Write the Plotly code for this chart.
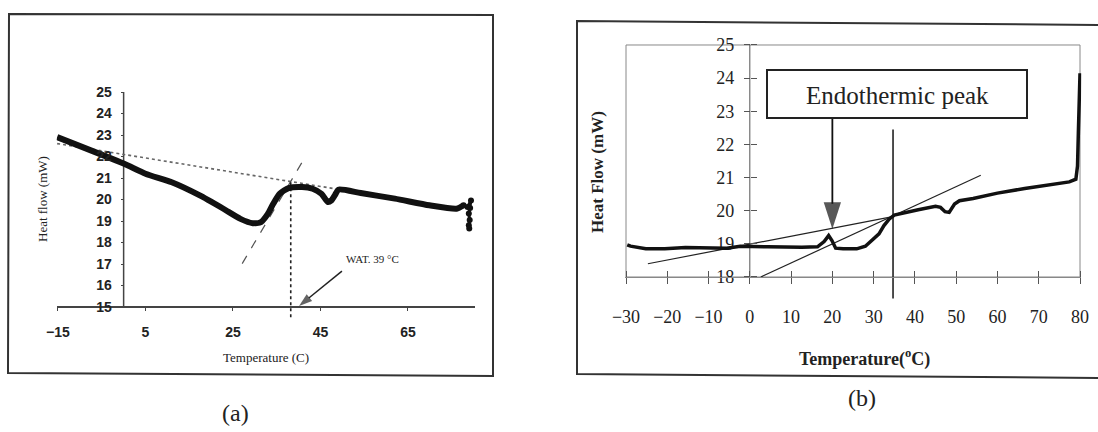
import plotly.graph_objects as go

W, H = 1098, 432

# ---------------- Panel (a) data ----------------
A_X_TICKS = [-15, 5, 25, 45, 65]
A_Y_TICKS = [15, 16, 17, 18, 19, 20, 21, 22, 23, 24, 25]
A_CURVE_T = [-15.2, 0, 5, 11, 17.3, 22.8, 26.7, 29.5, 31.4, 33, 34.2, 35.7, 37.7,
             40.8, 43.2, 45.2, 46.7, 47.5, 48.3, 49.1, 54.2, 62, 69.9, 76.1, 77.7]
A_CURVE_HF = [22.9, 21.67, 21.2, 20.8, 20.2, 19.57, 19.1, 18.9, 18.95, 19.34, 19.8, 20.27, 20.53,
              20.58, 20.5, 20.27, 19.88, 19.96, 20.2, 20.46, 20.3, 20.04, 19.73, 19.57, 19.73]
A_END_T = [77.7, 78.6, 79.4, 79.2, 78.9, 79.1, 78.9, 79.0]
A_END_HF = [19.73, 19.65, 19.95, 19.6, 19.35, 19.05, 18.8, 18.65]
A_BASE_T = [-15.2, 48.3]
A_BASE_HF = [22.6, 20.5]
A_TAN_T = [27.1, 40.8]
A_TAN_HF = [17.02, 21.74]
A_WAT_T = [38.2, 38.2]
A_WAT_HF = [20.8, 14.4]
A_ARROW_T = [49.9, 40.1]
A_ARROW_HF = [16.67, 15.05]

# ---------------- Panel (b) data ----------------
B_X_TICKS = [-30, -20, -10, 0, 10, 20, 30, 40, 50, 60, 70, 80]
B_Y_TICKS = [18, 19, 20, 21, 22, 23, 24, 25]
B_CURVE_T = [-29.7, -28.9, -25.2, -20.6, -15.6, -10.6, -5.6, -2.3, 0, 4.3, 12.6, 16.4,
             18.0, 19.1, 19.9, 20.8, 22.6, 25.9, 28.0, 29.6, 31.3, 32.5, 33.8, 35.0,
             37.5, 40.8, 45.0, 46.2, 47.3, 48.3, 49.6, 50.8, 54.1, 60.0, 66.6, 72.4,
             77.4, 79.0, 79.4, 79.6, 79.8, 79.9, 80.0]
B_CURVE_HF = [18.97, 18.93, 18.85, 18.85, 18.89, 18.87, 18.87, 18.93, 18.93, 18.91, 18.9, 18.91,
              19.07, 19.25, 19.1, 18.87, 18.85, 18.85, 18.93, 19.1, 19.3, 19.55, 19.75, 19.87,
              19.95, 20.03, 20.13, 20.1, 19.97, 19.95, 20.2, 20.3, 20.37, 20.53, 20.67, 20.79,
              20.87, 20.95, 21.35, 22.35, 23.3, 23.95, 24.15]
B_BASE_T = [-24.7, 34.6]
B_BASE_HF = [18.4, 19.82]
B_TAN_T = [2.66, 55.96]
B_TAN_HF = [18.0, 21.07]
B_VLINE_T = [34.7, 34.7]
B_VLINE_HF = [22.45, 17.35]
B_ARROW_T = [20.0, 20.0]
B_ARROW_HF = [22.8, 19.45]


def px_x(p):
    return p / W


def px_y(p):
    return 1 - p / H


# axis geometry (pixels) ---------------------------------
a_xr = [-15.3, 80.2]
a_ppx = (408 - 58) / 80.0
a_xdom = [px_x(58 + (a_xr[0] + 15) * a_ppx), px_x(58 + (a_xr[1] + 15) * a_ppx)]
a_yr = [14.3, 25.1]
a_ppy = (307 - 92) / 10.0
a_ydom = [px_y(307 + (15 - a_yr[0]) * a_ppy), px_y(307 - (a_yr[1] - 15) * a_ppy)]
a_xpos = px_y(307)
a_ypos = px_x(58 + 15 * a_ppx)

b_xr = [-30.3, 80.3]
b_ppx = (1080 - 626) / 110.0
b_xdom = [px_x(626 + (b_xr[0] + 30) * b_ppx), px_x(626 + (b_xr[1] + 30) * b_ppx)]
b_yr = [17.2, 25.1]
b_ppy = (277 - 45) / 7.0
b_ydom = [px_y(277 + (18 - b_yr[0]) * b_ppy), px_y(277 - (b_yr[1] - 18) * b_ppy)]
b_xpos = px_y(277)
b_ypos = px_x(626 + 30 * b_ppx)

SANS = "Liberation Sans Narrow, Liberation Sans, Arial, sans-serif"
SERIF = "Liberation Serif, Times New Roman, serif"

fig = go.Figure()

# ---- panel a traces ----
fig.add_trace(go.Scatter(x=[0, 0], y=[min(A_Y_TICKS), max(A_Y_TICKS)], mode="lines",
                         line=dict(color="#444", width=1.5), xaxis="x", yaxis="y", hoverinfo="skip"))
fig.add_trace(go.Scatter(x=A_BASE_T, y=A_BASE_HF, mode="lines",
                         line=dict(color="#666", width=1.6, dash="dot"), xaxis="x", yaxis="y"))
fig.add_trace(go.Scatter(x=A_TAN_T, y=A_TAN_HF, mode="lines",
                         line=dict(color="#555", width=1.2, dash="dash"), xaxis="x", yaxis="y"))
fig.add_trace(go.Scatter(x=A_WAT_T, y=A_WAT_HF, mode="lines",
                         line=dict(color="#222", width=1.6, dash="dot"), xaxis="x", yaxis="y"))
fig.add_trace(go.Scatter(x=A_CURVE_T, y=A_CURVE_HF, mode="lines",
                         line=dict(color="#111", width=6, shape="spline", smoothing=0.6),
                         xaxis="x", yaxis="y"))
fig.add_trace(go.Scatter(x=A_END_T, y=A_END_HF, mode="lines+markers",
                         line=dict(color="#111", width=3), marker=dict(color="#111", size=6),
                         xaxis="x", yaxis="y"))
fig.add_trace(go.Scatter(x=A_ARROW_T, y=A_ARROW_HF, mode="lines+markers",
                         line=dict(color="#222", width=1.5),
                         marker=dict(symbol="arrow", size=[0, 14], angleref="previous",
                                     color="#222", line=dict(width=0)),
                         cliponaxis=False, xaxis="x", yaxis="y"))

# ---- panel b traces ----
fig.add_trace(go.Scatter(x=[0, 0], y=[min(B_Y_TICKS), max(B_Y_TICKS)], mode="lines",
                         line=dict(color="#555", width=1), xaxis="x2", yaxis="y2", hoverinfo="skip"))
fig.add_trace(go.Scatter(x=B_BASE_T, y=B_BASE_HF, mode="lines",
                         line=dict(color="#222", width=1.2), xaxis="x2", yaxis="y2"))
fig.add_trace(go.Scatter(x=B_TAN_T, y=B_TAN_HF, mode="lines",
                         line=dict(color="#222", width=1.2), xaxis="x2", yaxis="y2"))
fig.add_trace(go.Scatter(x=B_VLINE_T, y=B_VLINE_HF, mode="lines",
                         line=dict(color="#222", width=1.6), xaxis="x2", yaxis="y2"))
fig.add_trace(go.Scatter(x=B_CURVE_T, y=B_CURVE_HF, mode="lines",
                         line=dict(color="#111", width=3.5), xaxis="x2", yaxis="y2"))
fig.add_trace(go.Scatter(x=B_ARROW_T, y=B_ARROW_HF, mode="lines+markers",
                         line=dict(color="#111", width=1.8),
                         marker=dict(symbol="arrow", size=[0, 28], angleref="previous",
                                     color="#111", line=dict(width=0)),
                         xaxis="x2", yaxis="y2"))
fig.add_trace(go.Scatter(x=[], y=[], xaxis="x3", yaxis="y3", hoverinfo="skip"))

shapes = [
    dict(type="path", xref="paper", yref="paper",
         path=f"M {px_x(9)} {px_y(14)} L {px_x(493)} {px_y(15)} L {px_x(493)} {px_y(376)} "
              f"L {px_x(8)} {px_y(373)} Z",
         line=dict(color="#333", width=2)),
    dict(type="path", xref="paper", yref="paper",
         path=f"M {px_x(577)} {px_y(21)} L {px_x(1100)} {px_y(25)} L {px_x(1100)} {px_y(378)} "
              f"L {px_x(577)} {px_y(374)} Z",
         line=dict(color="#333", width=2)),
    dict(type="rect", xref="x2", yref="y2", x0=min(B_X_TICKS), x1=max(B_X_TICKS),
         y0=min(B_Y_TICKS), y1=max(B_Y_TICKS), line=dict(color="#888", width=1), layer="below"),
    dict(type="rect", xref="paper", yref="paper", x0=px_x(767), x1=px_x(1027),
         y0=px_y(118), y1=px_y(70), line=dict(color="#222", width=2), fillcolor="white"),
]


def note(text, x, y, size, family=SERIF, angle=0, xref="paper", yref="paper"):
    return dict(text=text, x=x, y=y, xref=xref, yref=yref, textangle=angle, showarrow=False,
                xanchor="center", yanchor="middle",
                font=dict(family=family, size=size, color="#222"))


annotations = [
    note("Heat flow (mW)", px_x(42), px_y(199), 13, angle=-90),
    note("Temperature (C)", px_x(266), px_y(357), 13),
    note("WAT. 39 °C", 57, 17.23, 11, xref="x", yref="y"),
    note("(a)", px_x(235), px_y(413), 24),
    note("<b>Heat Flow (mW)</b>", px_x(597), px_y(172), 17, angle=-90),
    note("<b>Temperature(<sup>o</sup>C)</b>", px_x(864), px_y(358), 18),
    note("Endothermic peak", px_x(897), px_y(95), 25),
    note("(b)", px_x(862), px_y(398), 24),
]

common = dict(showgrid=False, zeroline=False, automargin=False)

fig.update_layout(
    template="none",
    width=W, height=H, margin=dict(l=0, r=0, t=0, b=0, pad=0), autosize=False,
    paper_bgcolor="white", plot_bgcolor="rgba(0,0,0,0)", showlegend=False,
    shapes=shapes, annotations=annotations,
    xaxis=dict(domain=a_xdom, range=a_xr, anchor="free", position=a_xpos,
               tickvals=A_X_TICKS, ticks="outside", ticklen=3, tickcolor="#444",
               showline=True, linecolor="#444", linewidth=1.5,
               ticklabelstandoff=9, tickfont=dict(family=SANS, size=14, color="#222", weight="bold"),
               **common),
    yaxis=dict(domain=a_ydom, range=a_yr, anchor="free", position=a_ypos,
               tickvals=A_Y_TICKS, ticks="outside", ticklen=3, tickcolor="#444",
               showline=False, ticklabelstandoff=6,
               tickfont=dict(family=SANS, size=14, color="#222", weight="bold"), **common),
    xaxis2=dict(domain=b_xdom, range=b_xr, anchor="free", position=b_xpos,
                tickvals=B_X_TICKS, ticks="outside", ticklen=6, tickcolor="#555",
                showline=True, linecolor="#888", linewidth=1,
                ticklabelstandoff=17, tickfont=dict(family=SERIF, size=18, color="#222"), **common),
    yaxis2=dict(domain=b_ydom, range=b_yr, anchor="free", position=b_ypos,
                tickvals=B_Y_TICKS, ticks="outside", ticklen=6, tickcolor="#555",
                showline=False, ticklabelstandoff=6, layer="below traces",
                tickfont=dict(family=SERIF, size=18, color="#222"), **common),
    xaxis3=dict(overlaying="x2", range=b_xr, anchor="free", position=b_xpos,
                tickvals=B_X_TICKS, ticks="inside", ticklen=6, tickcolor="#555",
                showticklabels=False, showline=False, **common),
    yaxis3=dict(overlaying="y2", range=b_yr, anchor="free", position=b_ypos,
                tickvals=B_Y_TICKS, ticks="inside", ticklen=6, tickcolor="#555",
                showticklabels=False, showline=False, **common),
)

fig.write_html("out.html")
